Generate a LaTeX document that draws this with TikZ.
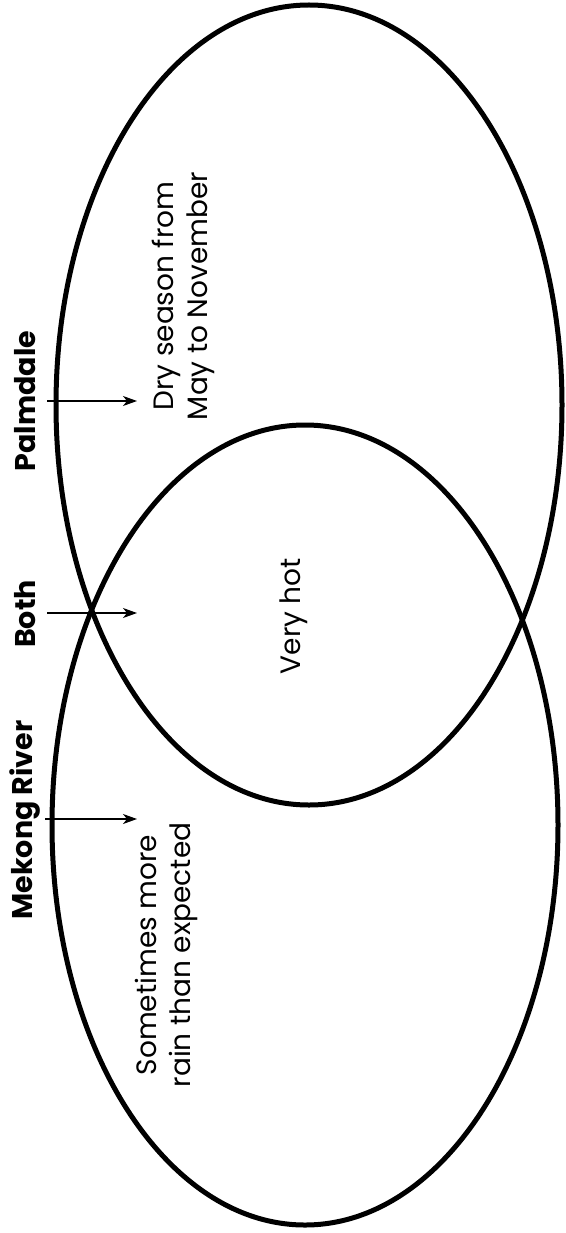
\documentclass[tikz,border=0pt]{standalone}
\usepackage{fontspec}
\setmainfont{Poppins}
\usetikzlibrary{arrows.meta,shapes.geometric}
\begin{document}
\begin{tikzpicture}[x=1pt,y=-1pt,
  venn/.style={draw=black, line width=5pt, ellipse, inner sep=0pt, minimum width=506pt, minimum height=800pt},
  lbl/.style={rotate=90, font=\fontsize{28.5}{32}\selectfont\bfseries, inner sep=0pt},
  body/.style={rotate=90, font=\fontsize{28}{34}\selectfont, align=center, inner sep=0pt},
  arr/.style={line width=1.3pt, -{Stealth[length=14pt,width=10pt,inset=4pt]}}]
\useasboundingbox (0,0) rectangle (565,1233);
\fill[white] (0,0) rectangle (565,1233);
\node[venn] (palm) at (309,405) {};
\node[venn] (mek) at (305,825) {};
% labels
\node[lbl] (lpalm) at (25,401) {Palmdale};
\node[lbl] (lboth) at (25,614) {Both};
\node[lbl] (lmek) at (25,820) {Mekong River};
% arrows
\coordinate (pa1) at (47,401); \coordinate (pa2) at (137,401);
\coordinate (ba1) at (47,613); \coordinate (ba2) at (137,613);
\coordinate (ma1) at (45,819); \coordinate (ma2) at (137,819);
\draw[arr] (pa1) -- (pa2);
\draw[arr] (ba1) -- (ba2);
\draw[arr] (ma1) -- (ma2);
% texts
\node[body] (tdry) at (183,296) {Dry season from\\May to November};
\node[body] (thot) at (294,616) {Very hot};
\node[body] (train) at (166,955) {Sometimes more\\rain than expected};
\end{tikzpicture}
\end{document}
